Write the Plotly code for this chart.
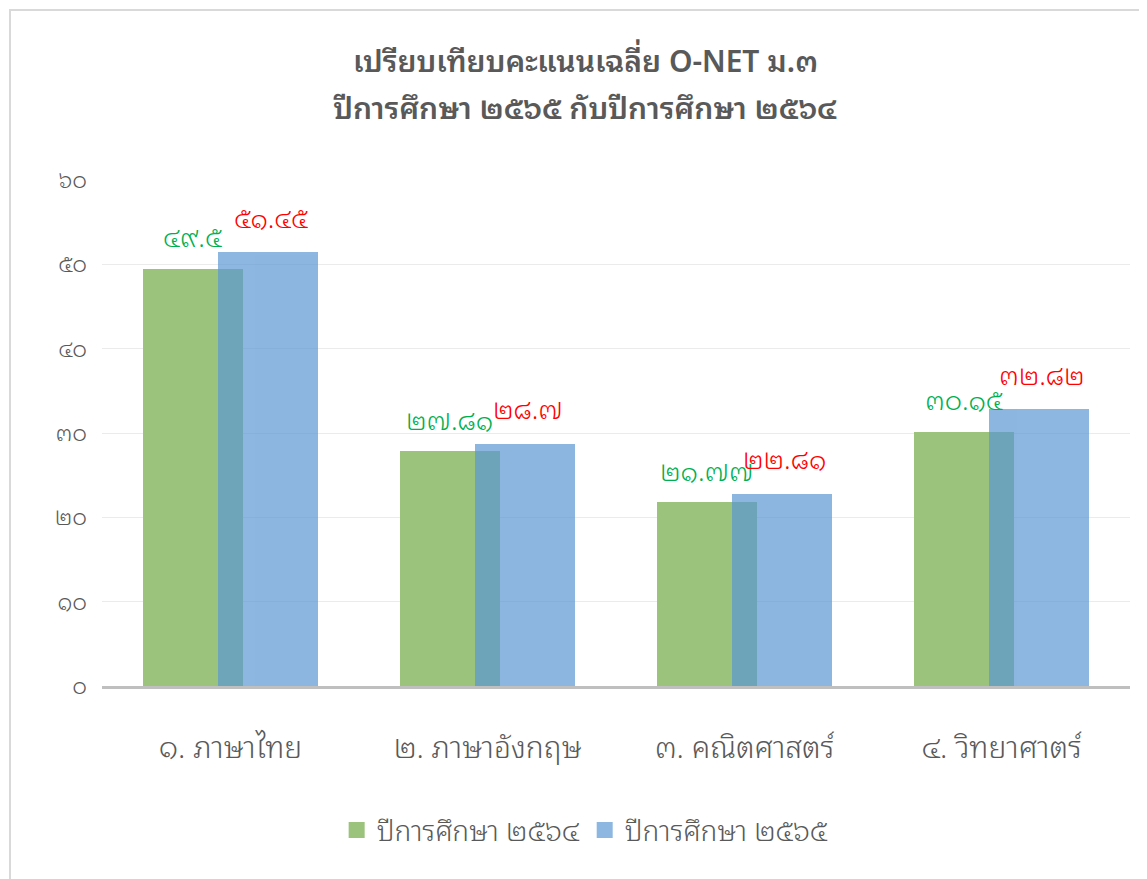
import plotly.graph_objects as go

categories = ["๑. ภาษาไทย", "๒. ภาษาอังกฤษ", "๓. คณิตศาสตร์", "๔. วิทยาศาตร์"]
series_names = ["ปีการศึกษา ๒๕๖๔", "ปีการศึกษา ๒๕๖๕"]
values_2564 = [49.5, 27.81, 21.77, 30.15]
values_2565 = [51.45, 28.7, 22.81, 32.82]
labels_2564 = ["๔๙.๕", "๒๗.๘๑", "๒๑.๗๗", "๓๐.๑๕"]
labels_2565 = ["๕๑.๔๕", "๒๘.๗", "๒๒.๘๑", "๓๒.๘๒"]
y_ticks = [0, 10, 20, 30, 40, 50, 60]
y_tick_labels = ["๐", "๑๐", "๒๐", "๓๐", "๔๐", "๕๐", "๖๐"]
title_lines = ["เปรียบเทียบคะแนนเฉลี่ย O-NET ม.๓", "ปีการศึกษา ๒๕๖๕ กับปีการศึกษา ๒๕๖๔"]

FONT = "Noto Sans Thai Looped, Loma, Garuda, Tahoma, Noto Sans Thai, Noto Sans, sans-serif"
GRAY = "#595959"
GREEN = "rgb(155,195,124)"
BLUE = "rgb(92,152,211)"

fig = go.Figure()
fig.add_trace(go.Bar(
    x=categories, y=values_2564, name=series_names[0], showlegend=False,
    marker=dict(color=GREEN, line=dict(width=0)),
    width=0.39, offset=-0.34,
))
fig.add_trace(go.Bar(
    x=categories, y=values_2565, name=series_names[1], showlegend=False,
    marker=dict(color=BLUE, line=dict(width=0)),
    opacity=0.7,
    width=0.39, offset=-0.049,
))
# legend entries with square markers
fig.add_trace(go.Scatter(x=[None], y=[None], mode="markers", name=series_names[0],
                         marker=dict(symbol="square", size=26, color=GREEN)))
fig.add_trace(go.Scatter(x=[None], y=[None], mode="markers", name=series_names[1],
                         marker=dict(symbol="square", size=26, color="rgb(141,183,224)")))

annotations = []
for c, v, t in zip(categories, values_2564, labels_2564):
    annotations.append(dict(x=c, y=v, text=t, showarrow=False, xref="x", yref="y",
                            xshift=-38, yshift=34, yanchor="middle",
                            font=dict(family=FONT, size=27, color="#00B050", weight=300)))
for c, v, t in zip(categories, values_2565, labels_2565):
    annotations.append(dict(x=c, y=v, text=t, showarrow=False, xref="x", yref="y",
                            xshift=40, yshift=37, yanchor="middle",
                            font=dict(family=FONT, size=27, color="#FF0000", weight=300)))
annotations.append(dict(x=0.47, y=1 + (180 - 58) / 506, xref="paper", yref="paper",
                        text=title_lines[0], showarrow=False,
                        yanchor="middle", xanchor="center",
                        font=dict(family=FONT, size=30, color=GRAY, weight=600)))
annotations.append(dict(x=0.47, y=1 + (180 - 106) / 506, xref="paper", yref="paper",
                        text=title_lines[1], showarrow=False,
                        yanchor="middle", xanchor="center",
                        font=dict(family=FONT, size=30, color=GRAY, weight=600)))

fig.update_layout(
    width=1139, height=871,
    margin=dict(l=94, r=17, t=172, b=193),
    paper_bgcolor="white", plot_bgcolor="white",
    barmode="overlay",
    bargap=0,
    font=dict(family=FONT, color=GRAY),
    annotations=annotations,
    showlegend=True,
    legend=dict(orientation="h", x=0.47, xanchor="center", y=-0.285, yanchor="middle",
                font=dict(family=FONT, size=28, color=GRAY, weight=300),
                traceorder="normal"),
    shapes=[dict(type="rect", xref="paper", yref="paper",
                 x0=(10 - 102) / 1028, x1=1.2, y0=-0.6, y1=1 + (180 - 10) / 506,
                 line=dict(color="#D9D9D9", width=2), fillcolor="rgba(0,0,0,0)", layer="below")],
)
fig.update_xaxes(
    type="category", range=[-0.5, 3.5],
    showline=True, linecolor="#BFBFBF", linewidth=3,
    showgrid=False, zeroline=False,
    ticks="", ticklabelstandoff=33,
    tickfont=dict(family=FONT, size=30, color=GRAY, weight=300),
)
fig.update_yaxes(
    range=[0, 60], tickvals=y_ticks, ticktext=y_tick_labels,
    showgrid=True, gridcolor="#EBEBEB", gridwidth=1,
    zeroline=False, showline=False, ticks="", ticklabelstandoff=14,
    tickfont=dict(family=FONT, size=23, color=GRAY, weight=300),
)

fig.write_html("out.html")
